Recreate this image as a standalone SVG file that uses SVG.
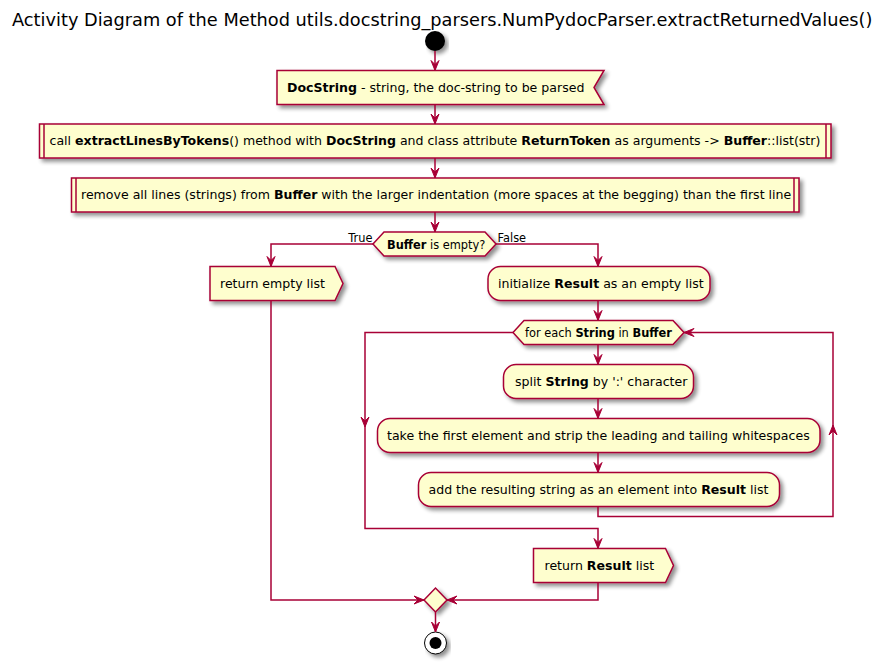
<svg xmlns="http://www.w3.org/2000/svg" width="884" height="662" viewBox="0 0 884 662">
<style>
.n{fill:#FEFECE;stroke:#A80036;stroke-width:1.5;filter:url(#sh)}
.l{fill:none;stroke:#A80036;stroke-width:1.5}
.a{fill:#A80036;stroke:#A80036;stroke-width:1}
text{font-family:"DejaVu Sans","Noto Sans",sans-serif;fill:#000}
.t{font-size:12.55px}
.s{font-size:11.4px}
.b{font-weight:bold}
</style>
<defs>
<filter id="sh" x="-10%" y="-20%" width="130%" height="160%">
<feGaussianBlur in="SourceAlpha" stdDeviation="2"/>
<feOffset dx="3" dy="3" result="o"/>
<feComponentTransfer><feFuncA type="linear" slope="0.45"/></feComponentTransfer>
<feMerge><feMergeNode/><feMergeNode in="SourceGraphic"/></feMerge>
</filter>
</defs>
<rect width="884" height="662" fill="#FFFFFF"/>
<text x="12" y="26" style="font-size:17.75px">Activity Diagram of the Method utils.docstring_parsers.NumPydocParser.extractReturnedValues()</text>

<g id="start"><circle cx="435" cy="41" r="10" fill="#000" filter="url(#sh)"/></g>

<g id="docstring">
<polygon class="n" points="277,70.5 604,70.5 594,87.5 604,104.5 277,104.5"/>
<text class="t" x="287" y="92"><tspan class="b">DocString</tspan> - string, the doc-string to be parsed</text>
</g>

<g id="callExtract">
<rect class="n" x="39.5" y="124" width="791.5" height="34"/>
<line class="l" x1="44" y1="124" x2="44" y2="158"/>
<line class="l" x1="826" y1="124" x2="826" y2="158"/>
<text class="t" x="49.5" y="145">call <tspan class="b">extractLinesByTokens</tspan>() method with <tspan class="b">DocString</tspan> and class attribute <tspan class="b">ReturnToken</tspan> as arguments -&gt; <tspan class="b">Buffer</tspan>::list(str)</text>
</g>

<g id="removeLines">
<rect class="n" x="71.5" y="178" width="727.5" height="34"/>
<line class="l" x1="76" y1="178" x2="76" y2="212"/>
<line class="l" x1="794" y1="178" x2="794" y2="212"/>
<text class="t" x="81" y="199">remove all lines (strings) from <tspan class="b">Buffer</tspan> with the larger indentation (more spaces at the begging) than the first line</text>
</g>

<g id="isEmpty">
<polygon class="n" points="373,244 384,232 485,232 496,244 485,256 384,256"/>
<text class="s" x="387" y="248.5"><tspan class="b">Buffer</tspan> is empty?</text>
</g>

<g id="returnEmpty">
<polygon class="n" points="210,266.5 335,266.5 343,283.5 335,300.5 210,300.5"/>
<text class="t" x="220" y="288">return empty list</text>
</g>

<g id="initResult">
<rect class="n" x="488" y="266.5" width="222" height="34" rx="12.5" ry="12.5"/>
<text class="t" x="498" y="288">initialize <tspan class="b">Result</tspan> as an empty list</text>
</g>

<g id="forEach">
<polygon class="n" points="513,332.5 524,320.5 673,320.5 684,332.5 673,344.5 524,344.5"/>
<text class="s" x="525" y="336.5">for each <tspan class="b">String</tspan> in <tspan class="b">Buffer</tspan></text>
</g>

<g id="split">
<rect class="n" x="503.5" y="364.5" width="190" height="34" rx="12.5" ry="12.5"/>
<text class="t" x="515" y="386">split <tspan class="b">String</tspan> by ':' character</text>
</g>

<g id="take">
<rect class="n" x="377.5" y="418.5" width="442.5" height="34" rx="12.5" ry="12.5"/>
<text class="t" x="387" y="440">take the first element and strip the leading and tailing whitespaces</text>
</g>

<g id="add">
<rect class="n" x="418.5" y="472.5" width="361" height="34" rx="12.5" ry="12.5"/>
<text class="t" x="428.5" y="494">add the resulting string as an element into <tspan class="b">Result</tspan> list</text>
</g>

<g id="returnResult">
<polygon class="n" points="533.5,548.5 665.5,548.5 673.5,565.5 665.5,582.5 533.5,582.5"/>
<text class="t" x="544.5" y="570">return <tspan class="b">Result</tspan> list</text>
</g>

<g id="merge">
<polygon class="n" points="424,600 435.5,588 447,600 435.5,612"/>
</g>

<g id="stop">
<circle cx="435.5" cy="643" r="11" fill="#FFFFFF" stroke="#000" stroke-width="1" filter="url(#sh)"/>
<circle cx="435.5" cy="643" r="6" fill="#000"/>
</g>

<g id="connectors">
<line class="l" x1="435" y1="51" x2="435" y2="70"/>
<polygon class="a" points="431,60.5 435,70.5 439,60.5 435,64.5"/>
<line class="l" x1="435" y1="104.5" x2="435" y2="124"/>
<polygon class="a" points="431,114 435,124 439,114 435,118"/>
<line class="l" x1="435" y1="158" x2="435" y2="178"/>
<polygon class="a" points="431,168 435,178 439,168 435,172"/>
<line class="l" x1="435" y1="212" x2="435" y2="232"/>
<polygon class="a" points="431,222 435,232 439,222 435,226"/>

<polyline class="l" points="373,244 271,244 271,266"/>
<polygon class="a" points="267,256.5 271,266.5 275,256.5 271,260.5"/>
<text class="s" x="372.5" y="242" text-anchor="end">True</text>
<polyline class="l" points="496,244 598,244 598,266"/>
<polygon class="a" points="594,256.5 598,266.5 602,256.5 598,260.5"/>
<text class="s" x="497.5" y="242">False</text>

<line class="l" x1="598" y1="300.5" x2="598" y2="320"/>
<polygon class="a" points="594,310.5 598,320.5 602,310.5 598,314.5"/>
<line class="l" x1="598" y1="344.5" x2="598" y2="364"/>
<polygon class="a" points="594,354.5 598,364.5 602,354.5 598,358.5"/>
<line class="l" x1="598" y1="398.5" x2="598" y2="418"/>
<polygon class="a" points="594,408.5 598,418.5 602,408.5 598,412.5"/>
<line class="l" x1="598" y1="452.5" x2="598" y2="472"/>
<polygon class="a" points="594,462.5 598,472.5 602,462.5 598,466.5"/>

<polyline class="l" points="598,506.5 598,516.5 833,516.5 833,332.5 684,332.5"/>
<polygon class="a" points="829,435 833,425 837,435 833,431"/>
<polygon class="a" points="694,328.5 684,332.5 694,336.5 690,332.5"/>

<polyline class="l" points="513,332.5 365,332.5 365,528.5 598,528.5 598,548"/>
<polygon class="a" points="361,417 365,427 369,417 365,421"/>
<polygon class="a" points="594,538.5 598,548.5 602,538.5 598,542.5"/>

<polyline class="l" points="598,582.5 598,600 447,600"/>
<polygon class="a" points="457,596 447,600 457,604 453,600"/>
<polyline class="l" points="271,300.5 271,600 424,600"/>
<polygon class="a" points="414,596 424,600 414,604 418,600"/>

<line class="l" x1="435.5" y1="612" x2="435.5" y2="632"/>
<polygon class="a" points="431.5,622 435.5,632 439.5,622 435.5,626"/>
</g>
</svg>
